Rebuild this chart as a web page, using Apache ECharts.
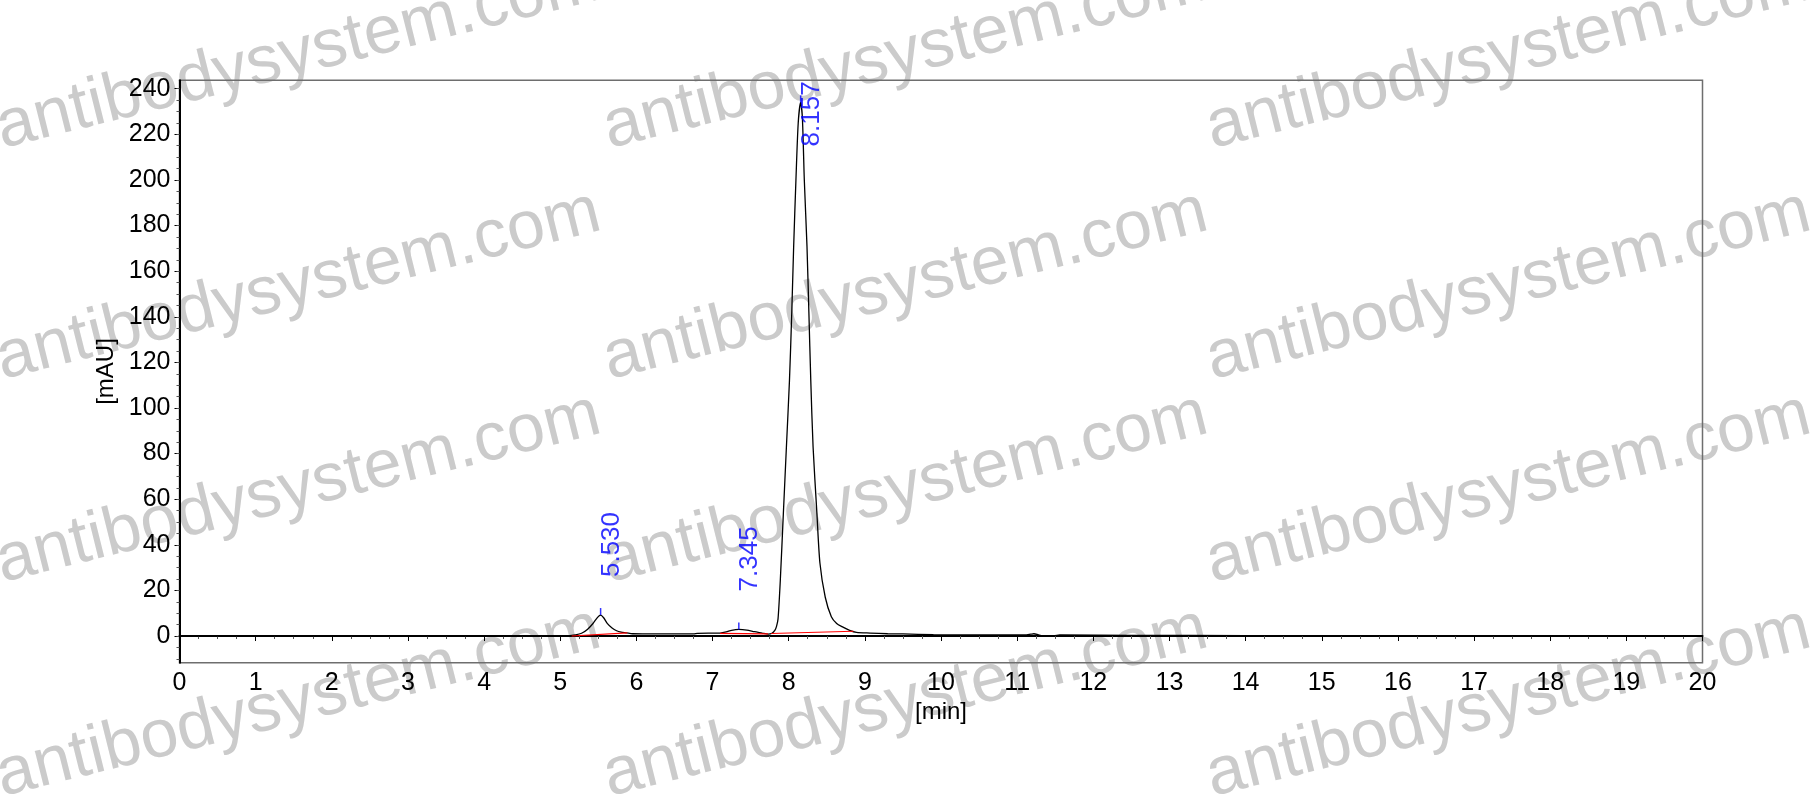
<!DOCTYPE html>
<html>
<head>
<meta charset="utf-8">
<script src="https://cdn.jsdelivr.net/npm/echarts@6/dist/echarts.min.js"></script>
<style>
html,body{margin:0;padding:0;background:#fff;}
#c{width:1812px;height:805px;}
</style>
</head>
<body>
<div id="c"></div>
<script>
// Chromatogram trace (time in min, absorbance in mAU)
const traceTime = [0, 4.9, 5.10, 5.20, 5.28, 5.36, 5.43, 5.49, 5.53, 5.57, 5.62, 5.68, 5.74, 5.80, 5.87, 5.95, 6.3, 6.75, 6.80, 7.10, 7.18, 7.25, 7.345, 7.45, 7.55, 7.65, 7.73, 7.78, 7.82, 7.84, 7.86, 7.89, 7.93, 7.97, 8.01, 8.04, 8.065, 8.095, 8.125, 8.157, 8.18, 8.205, 8.24, 8.265, 8.29, 8.32, 8.37, 8.41, 8.48, 8.56, 8.63, 8.70, 8.80, 8.89, 9.07, 9.30, 9.50, 9.90, 10.25, 11.10, 11.18, 11.22, 11.28, 11.33, 11.48, 11.56, 12.5, 14, 16, 18, 20];
const traceValue = [0, 0, 0.1, 0.5, 1.2, 3.0, 5.5, 8.2, 9.2, 8.0, 5.4, 3.5, 2.3, 1.7, 1.4, 1.0, 0.9, 0.9, 1.2, 1.3, 1.8, 2.5, 2.9, 2.6, 1.9, 1.3, 0.8, 1.2, 2.6, 4.2, 7.5, 24.6, 53.8, 83, 112, 141.5, 170.7, 200, 225, 234, 227, 200, 171, 142, 112, 83, 54, 32, 17, 8.5, 5.5, 4.1, 2.5, 1.6, 1.3, 1.0, 0.9, 0.6, 0.45, 0.45, 0.8, 1.0, 0.5, 0.15, 0.15, 0.45, 0.3, 0.2, 0.1, 0.0, 0.0];

// Peak apexes and labels
const peakTimes = [5.530, 7.345, 8.157];
const peakHeights = [9.2, 2.9, 234];
const peakLabels = ['5.530', '7.345', '8.157'];

// Integration baselines (start time, start value, end time, end value)
const base1 = [[5.15, 0.0], [5.88, 1.4]];
const base2 = [[7.10, 1.2], [7.73, 0.9]];
const base3 = [[7.77, 1.1], [8.85, 2.1]];

// Axis ticks
const yMajorTicks = [0, 20, 40, 60, 80, 100, 120, 140, 160, 180, 200, 220, 240];
const yMinorTicks = [-10, -5, 0, 5, 10, 15, 20, 25, 30, 35, 40, 45, 50, 55, 60, 65, 70, 75, 80, 85, 90, 95, 100, 105, 110, 115, 120, 125, 130, 135, 140, 145, 150, 155, 160, 165, 170, 175, 180, 185, 190, 195, 200, 205, 210, 215, 220, 225, 230, 235, 240];

// Watermark layout
const wmText = 'antibodysystem.com';
const wmCols = [6, 613, 1216];
const wmRows = [163, 394, 597, 811];

const FONT = 'Liberation Sans, Arial, sans-serif';
const YMIN = -11.7, YMAX = 243.7;

const trace = traceTime.map((t, i) => [t, traceValue[i]]);
const peaks = peakTimes.map((t, i) => [t, peakHeights[i]]);

const graphics = [];
wmCols.forEach(x => wmRows.forEach(y => {
  graphics.push({
    type: 'text', x: x, y: y, rotation: 14 * Math.PI / 180, z: -10, silent: true,
    style: { text: wmText, font: '68px ' + FONT, fill: '#cbcbcb', textAlign: 'left', textVerticalAlign: 'bottom' }
  });
}));

const chart = echarts.init(document.getElementById('c'));
chart.setOption({
  animation: false,
  backgroundColor: '#fff',
  graphic: graphics,
  grid: { left: 179.5, right: 109.5, top: 80.3, bottom: 142.3, show: true, borderColor: '#6e6e6e', borderWidth: 1.5, backgroundColor: 'transparent' },
  xAxis: {
    type: 'value', min: 0, max: 20, interval: 1,
    name: '[min]', nameLocation: 'middle', nameGap: 37,
    nameTextStyle: { fontFamily: FONT, fontSize: 24, color: '#000' },
    axisLine: { show: true, lineStyle: { color: '#000', width: 2 } },
    axisTick: { show: true, length: 5, lineStyle: { color: '#000', width: 1 } },
    minorTick: { show: true, splitNumber: 4, length: 3, lineStyle: { color: '#555', width: 1 } },
    axisLabel: { fontFamily: FONT, fontSize: 25, color: '#000', margin: 8 },
    splitLine: { show: false }
  },
  yAxis: [{
    type: 'value', min: YMIN, max: YMAX,
    name: '[mAU]', nameLocation: 'middle', nameGap: 60, nameRotate: 90,
    nameTextStyle: { fontFamily: FONT, fontSize: 24, color: '#000' },
    axisLine: { show: true, lineStyle: { color: '#000', width: 2 } },
    axisTick: { show: true, length: 5, customValues: yMajorTicks, lineStyle: { color: '#000', width: 1 } },
    axisLabel: { fontFamily: FONT, fontSize: 25, color: '#000', margin: 9, customValues: yMajorTicks },
    splitLine: { show: false }
  }, {
    type: 'value', min: YMIN, max: YMAX, position: 'left',
    axisLine: { show: false },
    axisTick: { show: true, length: 3, customValues: yMinorTicks, lineStyle: { color: '#555', width: 1 } },
    axisLabel: { show: false },
    splitLine: { show: false }
  }],
  series: [
    { type: 'line', data: trace, showSymbol: false, smooth: 0.25, z: 3,
      lineStyle: { color: '#000', width: 1.3 }, silent: true },
    { type: 'line', data: base1, showSymbol: false, z: 4, lineStyle: { color: '#ff0000', width: 1.2 }, silent: true },
    { type: 'line', data: base2, showSymbol: false, z: 4, lineStyle: { color: '#ff0000', width: 1.2 }, silent: true },
    { type: 'line', data: base3, showSymbol: false, z: 4, lineStyle: { color: '#ff0000', width: 1.2 }, silent: true },
    { type: 'scatter', data: peaks, symbol: 'rect', symbolSize: [1.5, 7], symbolOffset: [0, -3.5],
      itemStyle: { color: '#0000ff' }, z: 5, silent: true },
    { type: 'scatter', symbolSize: 0, z: 6, silent: true,
      data: peaks.map((p, i) => ({
        value: p,
        label: i === 2 ? { distance: -44 } : {}
      })),
      label: {
        show: true, position: 'top', distance: 38, rotate: 90, align: 'left', verticalAlign: 'middle',
        offset: [0, 11],
        formatter: (p) => peakLabels[p.dataIndex],
        fontFamily: FONT, fontSize: 26, color: '#0000ff'
      }
    }
  ]
});
</script>
</body>
</html>
